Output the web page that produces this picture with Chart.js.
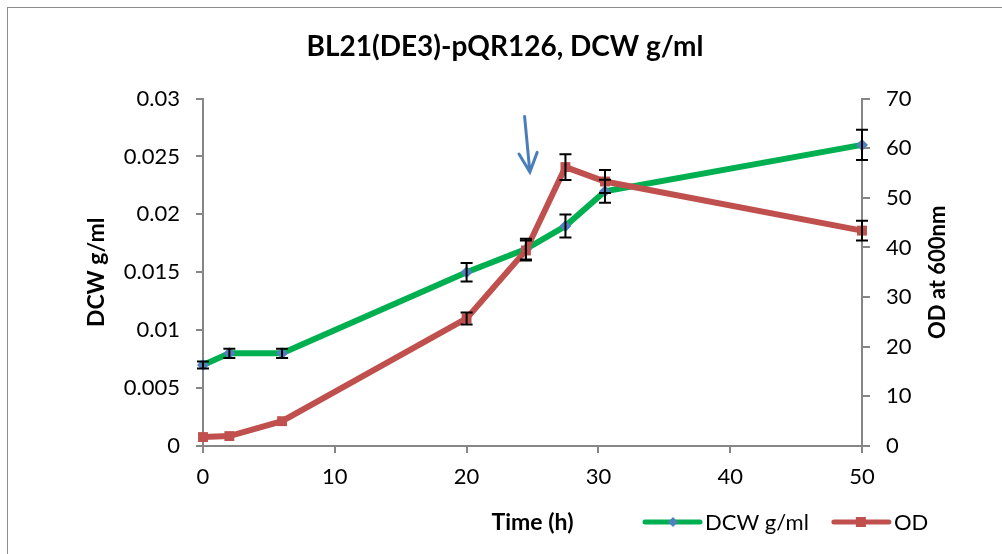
<!DOCTYPE html>
<html lang="en">
<head>
  <meta charset="UTF-8">
  <title>BL21(DE3)-pQR126, DCW g/ml</title>
  <style>
    body {
      margin: 0;
      background: #ffffff;
      overflow: hidden;
      font-family: Lato, sans-serif;
    }
    #frame {
      position: absolute;
      left: 7px;
      top: 7px;
      width: 1010px;
      height: 560px;
      border: 1px solid #8c8c8c;
      background: #ffffff;
    }
    #box {
      position: absolute;
      left: 0;
      top: 0;
      width: 994px;
      height: 546px;
    }
  </style>
  <script src="https://cdn.jsdelivr.net/npm/chart.js"></script>
</head>
<body>
  <div id="frame"><div id="box"><canvas id="growthChart"></canvas></div></div>

  <script>
    // sampling times (h)
    const hours = [0, 2, 6, 20, 24.5, 27.5, 30.5, 50];
    // dry cell weight g/ml and its error
    const dcw = [0.007, 0.008, 0.008, 0.015, 0.017, 0.019, 0.022, 0.026];
    const dcwErr = [0.0003, 0.0004, 0.0004, 0.0008, 0.0009, 0.001, 0.001, 0.0013];
    // OD at 600nm and its error
    const od = [1.8, 2.0, 5.0, 25.7, 39.4, 56.2, 53.3, 43.4];
    const odErr = [0, 0, 0, 1.2, 2.0, 2.6, 2.3, 2.0];

    const xTicks = [0, 10, 20, 30, 40, 50];
    const dcwTicks = [0, 0.005, 0.01, 0.015, 0.02, 0.025, 0.03];
    const dcwTickLabels = ['0', '0.005', '0.01', '0.015', '0.02', '0.025', '0.03'];
    const odTicks = [0, 10, 20, 30, 40, 50, 60, 70];

    // induction arrow, in hours / OD units
    const arrowStart = { x: 24.4, y: 66.4 };
    const arrowEnd = { x: 24.8, y: 55.2 };

    const axisGray = '#868686';
    const font = 'Lato';

    const toPoints = (ys) => hours.map((h, i) => ({ x: h, y: ys[i] }));

    // black error bars drawn on top of the lines
    const errorBars = {
      id: 'errorBars',
      afterDatasetsDraw(chart) {
        const ctx = chart.ctx;
        const xs = chart.scales.x;
        ctx.save();
        ctx.strokeStyle = '#000000';
        ctx.lineWidth = 2;
        chart.data.datasets.forEach(ds => {
          const ys = chart.scales[ds.yAxisID];
          ds.data.forEach((p, i) => {
            const e = ds.errors[i];
            if (!e) return;
            const px = xs.getPixelForValue(p.x);
            const top = ys.getPixelForValue(p.y + e);
            const bot = ys.getPixelForValue(p.y - e);
            ctx.beginPath();
            ctx.moveTo(px, top); ctx.lineTo(px, bot);
            ctx.moveTo(px - 6, top); ctx.lineTo(px + 6, top);
            ctx.moveTo(px - 6, bot); ctx.lineTo(px + 6, bot);
            ctx.stroke();
          });
        });
        ctx.restore();
      }
    };

    // arrow, right axis title and legend on the bottom row
    const extras = {
      id: 'extras',
      afterDraw(chart) {
        const ctx = chart.ctx;
        const xs = chart.scales.x;
        const y1 = chart.scales.y1;
        const area = chart.chartArea;
        ctx.save();

        // arrow
        const ax0 = xs.getPixelForValue(arrowStart.x), ay0 = y1.getPixelForValue(arrowStart.y);
        const ax1 = xs.getPixelForValue(arrowEnd.x), ay1 = y1.getPixelForValue(arrowEnd.y);
        const ang = Math.atan2(ay1 - ay0, ax1 - ax0);
        ctx.strokeStyle = '#4a7ebb';
        ctx.lineWidth = 3;
        ctx.lineCap = 'round';
        ctx.beginPath();
        ctx.moveTo(ax0, ay0); ctx.lineTo(ax1, ay1);
        ctx.moveTo(ax1 - 21 * Math.cos(ang - 0.45), ay1 - 21 * Math.sin(ang - 0.45));
        ctx.lineTo(ax1, ay1);
        ctx.lineTo(ax1 - 21 * Math.cos(ang + 0.45), ay1 - 21 * Math.sin(ang + 0.45));
        ctx.stroke();

        // right axis title, reading bottom to top
        ctx.fillStyle = '#000000';
        ctx.font = 'bold 22px ' + font;
        ctx.textAlign = 'center';
        ctx.textBaseline = 'middle';
        ctx.translate(y1.left + 76, (area.top + area.bottom) / 2);
        ctx.rotate(-Math.PI / 2);
        ctx.fillText('OD at 600nm', 0, 0);
        ctx.setTransform(1, 0, 0, 1, 0, 0);
        ctx.scale(chart.currentDevicePixelRatio, chart.currentDevicePixelRatio);

        // legend
        const rowY = 514;
        let lx = 637;
        ctx.font = '22px ' + font;
        ctx.textAlign = 'left';
        chart.data.datasets.forEach(ds => {
          ctx.strokeStyle = ds.borderColor;
          ctx.lineWidth = 5;
          ctx.lineCap = 'round';
          ctx.beginPath();
          ctx.moveTo(lx, rowY); ctx.lineTo(lx + 55, rowY);
          ctx.stroke();
          ctx.fillStyle = ds.pointBackgroundColor;
          ctx.beginPath();
          if (ds.pointStyle === 'rectRot') {
            const cx = lx + 28;
            ctx.moveTo(cx, rowY - 5); ctx.lineTo(cx + 5, rowY);
            ctx.lineTo(cx, rowY + 5); ctx.lineTo(cx - 5, rowY);
            ctx.closePath();
          } else {
            ctx.rect(lx + 22, rowY - 5, 10, 10);
          }
          ctx.fill();
          ctx.fillStyle = '#000000';
          ctx.fillText(ds.label, lx + 60, rowY + 1);
          lx += 60 + ctx.measureText(ds.label).width + 25;
        });
        ctx.restore();
      }
    };

    new Chart(document.getElementById('growthChart'), {
      type: 'line',
      data: {
        datasets: [
          {
            label: 'DCW g/ml',
            data: toPoints(dcw),
            errors: dcwErr,
            yAxisID: 'y',
            borderColor: '#00b050',
            borderWidth: 6,
            pointStyle: 'rectRot',
            pointRadius: 6,
            pointBackgroundColor: '#4f81bd',
            pointBorderWidth: 0,
            order: 2,
            clip: false
          },
          {
            label: 'OD',
            data: toPoints(od),
            errors: odErr,
            yAxisID: 'y1',
            borderColor: '#c0504d',
            borderWidth: 6,
            pointStyle: 'rect',
            pointRadius: 7,
            pointBackgroundColor: '#c0504d',
            pointBorderWidth: 0,
            order: 1,
            clip: false
          }
        ]
      },
      options: {
        responsive: true,
        maintainAspectRatio: false,
        animation: false,
        layout: { padding: 0 },
        plugins: {
          legend: { display: false },
          tooltip: { enabled: false },
          title: {
            display: true,
            text: 'BL21(DE3)-pQR126, DCW g/ml',
            color: '#000000',
            font: { family: font, size: 28, weight: 'bold' },
            padding: { top: 22, bottom: 35 }
          }
        },
        scales: {
          x: {
            type: 'linear',
            min: 0,
            max: 50,
            afterBuildTicks: s => { s.ticks = xTicks.map(v => ({ value: v })); },
            afterFit: s => { s.height = 108; },
            ticks: { color: '#000000', font: { family: font, size: 22 }, padding: 11, maxRotation: 0 },
            grid: { drawOnChartArea: false, tickLength: 7, color: axisGray, lineWidth: 2 },
            border: { color: axisGray, width: 2 },
            title: {
              display: true,
              text: 'Time (h)',
              color: '#000000',
              font: { family: font, size: 23, weight: 'bold' },
              padding: { top: 0, bottom: 18 }
            }
          },
          y: {
            position: 'left',
            min: 0,
            max: 0.03,
            afterBuildTicks: s => { s.ticks = dcwTicks.map(v => ({ value: v })); },
            afterFit: s => { s.width = 195; },
            ticks: {
              color: '#000000',
              font: { family: font, size: 22 },
              padding: 16,
              callback: (v) => dcwTickLabels[dcwTicks.indexOf(v)]
            },
            grid: { drawOnChartArea: false, tickLength: 7, color: axisGray, lineWidth: 2 },
            border: { color: axisGray, width: 2 },
            title: {
              display: true,
              text: 'DCW g/ml',
              color: '#000000',
              font: { family: font, size: 23, weight: 'bold' },
              padding: { top: 75, bottom: 0 }
            }
          },
          y1: {
            position: 'right',
            min: 0,
            max: 70,
            afterBuildTicks: s => { s.ticks = odTicks.map(v => ({ value: v })); },
            afterFit: s => { s.width = 140; },
            ticks: { color: '#000000', font: { family: font, size: 22 }, padding: 16 },
            grid: { drawOnChartArea: false, tickLength: 8, color: axisGray, lineWidth: 2 },
            border: { color: axisGray, width: 2 }
          }
        }
      },
      plugins: [errorBars, extras]
    });
  </script>
</body>
</html>
